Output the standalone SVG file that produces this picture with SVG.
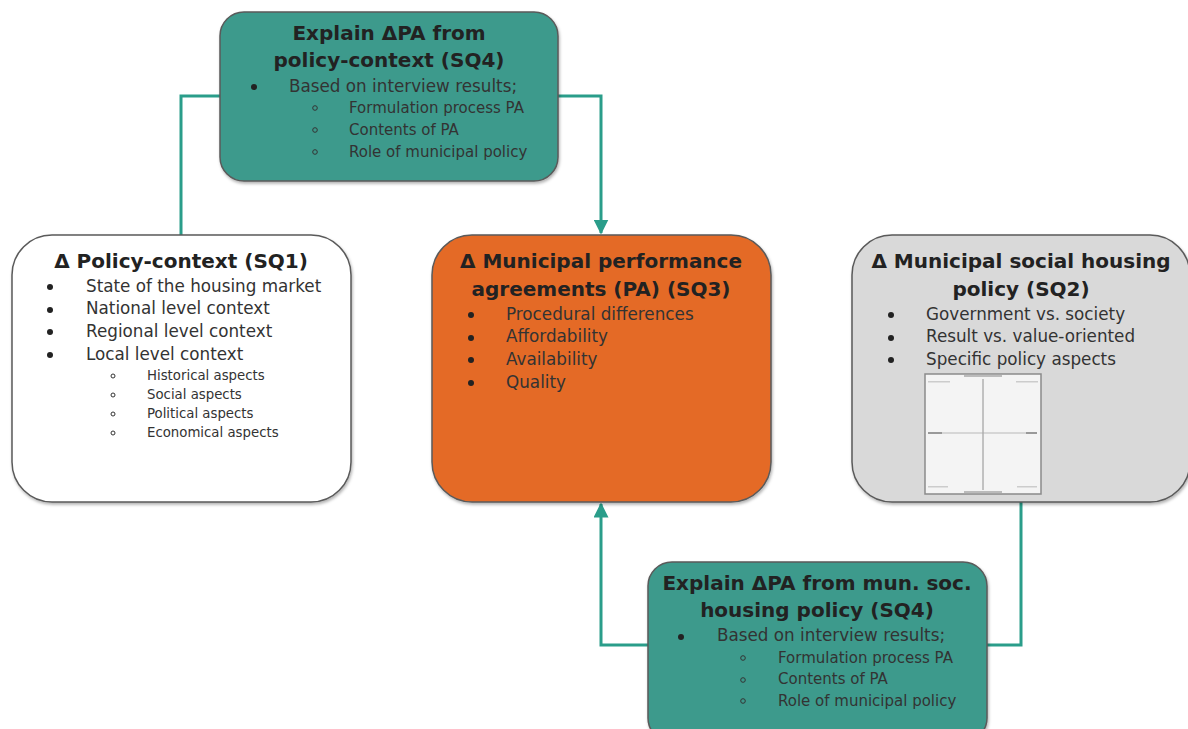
<svg xmlns="http://www.w3.org/2000/svg" width="1188" height="729" viewBox="0 0 1188 729">
  <defs>
    <marker id="arrow" viewBox="0 0 10 10" refX="9" refY="5" markerWidth="5" markerHeight="5" markerUnits="strokeWidth" orient="auto">
      <path d="M0,0 L10,5 L0,10 z" fill="#2a9d8a"/>
    </marker>
    <filter id="shadow" x="-5%" y="-5%" width="110%" height="115%">
      <feDropShadow dx="1" dy="2" stdDeviation="1.5" flood-color="#000" flood-opacity="0.3"/>
    </filter>
  </defs>
  <style>
    .box { stroke: #5a5a5a; stroke-width: 1.5; filter: url(#shadow); }
    .teal { fill: #3d9a8c; }
    .white { fill: #ffffff; }
    .orange { fill: #e46b28; }
    .grey { fill: #d9d9d9; }
    .title { font-family: "DejaVu Sans", Verdana, sans-serif; font-weight: bold; font-size: 20px; fill: #222; text-anchor: middle; }
    .item { font-family: "DejaVu Sans", Verdana, sans-serif; font-size: 16.8px; fill: #333; }
    .sub { font-family: "DejaVu Sans", Verdana, sans-serif; font-size: 15px; fill: #333; }
    .small { font-family: "DejaVu Sans", Verdana, sans-serif; font-size: 13.3px; fill: #333; }
    .dot { fill: #222; }
    .ring { fill: none; stroke: #333; stroke-width: 1; }
    .conn { fill: none; stroke: #2a9d8a; stroke-width: 3; }
  </style>

  <!-- connectors -->
  <g id="connectors">
    <path class="conn" d="M181,235 V96 H220"/>
    <path class="conn" d="M558,96 H601 V233" marker-end="url(#arrow)"/>
    <path class="conn" d="M648,645 H601 V504" marker-end="url(#arrow)"/>
    <path class="conn" d="M1021,502 V645 H987"/>
  </g>

  <!-- explain from policy context -->
  <g id="explain-context">
    <rect class="box teal" x="220" y="12" width="338" height="169" rx="24"/>
    <text class="title" x="389" y="40">Explain ΔPA from</text>
    <text class="title" x="389" y="67">policy-context (SQ4)</text>
    <circle class="dot" cx="254" cy="87" r="3"/>
    <text class="item" x="289" y="92">Based on interview results;</text>
    <circle class="ring" cx="315" cy="108" r="2.3"/>
    <text class="sub" x="349" y="113">Formulation process PA</text>
    <circle class="ring" cx="315" cy="130" r="2.3"/>
    <text class="sub" x="349" y="135">Contents of PA</text>
    <circle class="ring" cx="315" cy="152" r="2.3"/>
    <text class="sub" x="349" y="157">Role of municipal policy</text>
  </g>

  <!-- policy context -->
  <g id="policy-context">
    <rect class="box white" x="12" y="235" width="339" height="267" rx="40"/>
    <text class="title" x="181" y="268">Δ Policy-context (SQ1)</text>
    <circle class="dot" cx="50" cy="287" r="3"/>
    <text class="item" x="86" y="292">State of the housing market</text>
    <circle class="dot" cx="50" cy="310" r="3"/>
    <text class="item" x="86" y="314">National level context</text>
    <circle class="dot" cx="50" cy="332" r="3"/>
    <text class="item" x="86" y="337">Regional level context</text>
    <circle class="dot" cx="50" cy="355" r="3"/>
    <text class="item" x="86" y="360">Local level context</text>
    <circle class="ring" cx="113" cy="376" r="2"/>
    <text class="small" x="147" y="380">Historical aspects</text>
    <circle class="ring" cx="113" cy="395" r="2"/>
    <text class="small" x="147" y="399">Social aspects</text>
    <circle class="ring" cx="113" cy="414" r="2"/>
    <text class="small" x="147" y="418">Political aspects</text>
    <circle class="ring" cx="113" cy="433" r="2"/>
    <text class="small" x="147" y="437">Economical aspects</text>
  </g>

  <!-- performance agreements -->
  <g id="performance-agreements">
    <rect class="box orange" x="432" y="235" width="339" height="267" rx="40"/>
    <text class="title" x="601" y="268">Δ Municipal performance</text>
    <text class="title" x="601" y="296">agreements (PA) (SQ3)</text>
    <circle class="dot" cx="471" cy="315" r="3"/>
    <text class="item" x="506" y="320">Procedural differences</text>
    <circle class="dot" cx="471" cy="338" r="3"/>
    <text class="item" x="506" y="342">Affordability</text>
    <circle class="dot" cx="471" cy="360" r="3"/>
    <text class="item" x="506" y="365">Availability</text>
    <circle class="dot" cx="471" cy="383" r="3"/>
    <text class="item" x="506" y="388">Quality</text>
  </g>

  <!-- social housing policy -->
  <g id="social-housing-policy">
    <rect class="box grey" x="852" y="235" width="338" height="267" rx="40"/>
    <text class="title" x="1021" y="268">Δ Municipal social housing</text>
    <text class="title" x="1021" y="296">policy (SQ2)</text>
    <circle class="dot" cx="891" cy="315" r="3"/>
    <text class="item" x="926" y="320">Government vs. society</text>
    <circle class="dot" cx="891" cy="338" r="3"/>
    <text class="item" x="926" y="342">Result vs. value-oriented</text>
    <circle class="dot" cx="891" cy="360" r="3"/>
    <text class="item" x="926" y="365">Specific policy aspects</text>
    <!-- quadrant chart thumbnail -->
    <g id="quadrant">
      <rect x="925" y="374" width="116" height="120" fill="#f4f4f4" stroke="#8a8a8a" stroke-width="1.5"/>
      <line x1="983" y1="379" x2="983" y2="490" stroke="#777" stroke-width="0.8"/>
      <line x1="932" y1="433" x2="1029" y2="433" stroke="#aaa" stroke-width="0.8"/>
      <rect x="964" y="375" width="38" height="2" fill="#bbb"/>
      <rect x="964" y="491" width="38" height="2" fill="#bbb"/>
      <rect x="928" y="381" width="22" height="1.5" fill="#ccc"/>
      <rect x="1016" y="381" width="22" height="1.5" fill="#ccc"/>
      <rect x="928" y="486" width="20" height="1.5" fill="#ccc"/>
      <rect x="1017" y="486" width="20" height="1.5" fill="#ccc"/>
      <rect x="928" y="432" width="14" height="2" fill="#999"/>
      <rect x="1026" y="432" width="11" height="2" fill="#999"/>
    </g>
  </g>

  <!-- explain from social housing policy -->
  <g id="explain-housing">
    <rect class="box teal" x="648" y="562" width="339" height="180" rx="24"/>
    <text class="title" x="817" y="590">Explain ΔPA from mun. soc.</text>
    <text class="title" x="817" y="617">housing policy (SQ4)</text>
    <circle class="dot" cx="681" cy="637" r="3"/>
    <text class="item" x="717" y="641">Based on interview results;</text>
    <circle class="ring" cx="743" cy="658" r="2.3"/>
    <text class="sub" x="778" y="663">Formulation process PA</text>
    <circle class="ring" cx="743" cy="680" r="2.3"/>
    <text class="sub" x="778" y="684">Contents of PA</text>
    <circle class="ring" cx="743" cy="701" r="2.3"/>
    <text class="sub" x="778" y="706">Role of municipal policy</text>
  </g>
</svg>
